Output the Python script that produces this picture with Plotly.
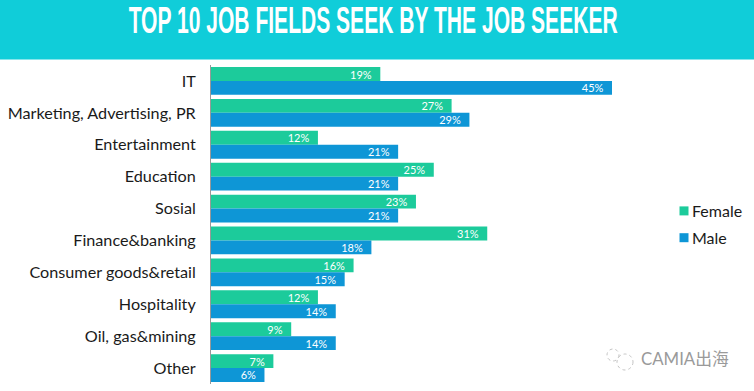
import plotly.graph_objects as go

W, H = 754, 391
categories = ["IT", "Marketing, Advertising, PR", "Entertainment", "Education", "Sosial",
              "Finance&banking", "Consumer goods&retail", "Hospitality", "Oil, gas&mining", "Other"]
female = [19, 27, 12, 25, 23, 31, 16, 12, 9, 7]
male = [45, 29, 21, 21, 21, 18, 15, 14, 14, 6]
title = "TOP 10 JOB FIELDS SEEK BY THE JOB SEEKER"

L, R, T, B = 211, 657, 65, 384


def px(x):
    return (x - L) / (R - L)


def py(y):
    return (B - y) / (B - T)


fig = go.Figure()
for name, vals, col in [("Female", female, "#1ccb9b"), ("Male", male, "#0e96d6")]:
    fig.add_trace(go.Bar(
        y=categories, x=vals, name=name, orientation="h", legendgroup=name,
        marker=dict(color=col, line_width=0),
        text=[f"{v}%\u00a0\u00a0" for v in vals], textposition="inside", insidetextanchor="end",
        textangle=0, constraintext="none",
        textfont=dict(family="Lato", size=11, color="white"),
    ))


def circle(cx, cy, r):
    return dict(type="circle", xref="paper", yref="paper", x0=px(cx - r), x1=px(cx + r),
                y0=py(cy + r), y1=py(cy - r), line=dict(color="#c4c4c4", width=1, dash="dot"))


fig.update_layout(
    width=W, height=H, autosize=False, barmode="group", bargap=0.13, bargroupgap=0,
    paper_bgcolor="white", plot_bgcolor="white",
    margin=dict(l=L, r=W - R, t=T, b=H - B, autoexpand=False),
    font=dict(family="Lato", color="#1a1a1a"),
    xaxis=dict(range=[0, 50.05], visible=False, fixedrange=True),
    yaxis=dict(autorange="reversed", showgrid=False, zeroline=False, showline=True,
               linecolor="#999999", linewidth=1, ticks="", ticklabelstandoff=11,
               tickfont=dict(family="Lato", size=16.2, color="#1a1a1a"), fixedrange=True),
    legend=dict(x=px(664), xanchor="left", y=py(224.5), yanchor="middle",
                font=dict(family="Lato", size=16, color="#1a1a1a"), traceorder="grouped",
                tracegroupgap=3, bgcolor="rgba(0,0,0,0)"),
    showlegend=True,
    shapes=[dict(type="rect", xref="paper", yref="paper", layer="below",
                 x0=px(0), x1=px(W), y0=py(59.5), y1=py(0),
                 fillcolor="#10cdd9", line_width=0),
            circle(625, 362, 8), circle(613, 355, 6)],
    annotations=[
        dict(text=title, xref="paper", yref="paper", x=px(372.5), y=py(20.5), xanchor="center",
             yanchor="middle", showarrow=False,
             font=dict(family="Liberation Sans", size=36, color="white", weight="bold")),
        dict(text="CAMIA出海", xref="paper", yref="paper", x=px(731), y=py(358), xanchor="right",
             yanchor="middle", showarrow=False,
             font=dict(family="Lato, Noto Sans CJK SC", size=16.8, color="#9a9a9a")),
    ],
)

post = """
document.body.style.margin = '0';
var ts = document.querySelectorAll('.annotation-text');
ts.forEach(function (t) {
  if (t.textContent.indexOf('TOP 10') === 0) {
    t.setAttribute('textLength', '489');
    t.setAttribute('lengthAdjust', 'spacingAndGlyphs');
  }
});
document.querySelectorAll('.legendtext').forEach(function (t) { t.setAttribute('x', '28'); });
document.querySelectorAll('.legendpoints path').forEach(function (p) {
  p.setAttribute('d', 'M4.5,4.5H-4.5V-4.5H4.5Z');
});
"""
fig.write_html("out.html", post_script=post, config={"displayModeBar": False})
